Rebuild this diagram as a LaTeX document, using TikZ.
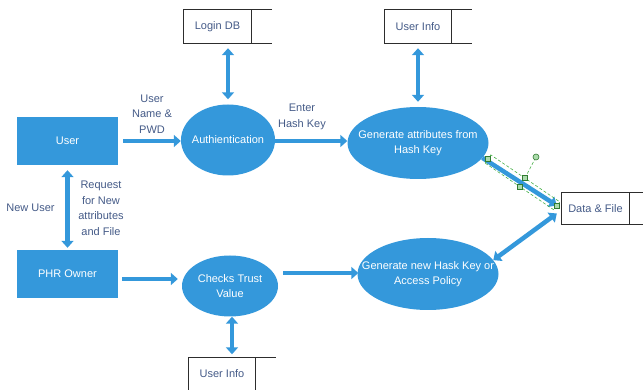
\documentclass[tikz,border=0pt]{standalone}
\usepackage{fontspec}
\setmainfont{Liberation Sans}
\usepackage{tikz}
\usepackage{xcolor}
\usetikzlibrary{arrows.meta,shapes.geometric,positioning}
\definecolor{flowblue}{RGB}{52,152,219}
\definecolor{labelblue}{RGB}{68,90,135}
\definecolor{storeline}{RGB}{45,45,45}
\definecolor{handlegreen}{RGB}{70,175,70}
\newcommand{\dfdfont}{\fontsize{11}{15.5}\selectfont}
\tikzset{
  proc/.style={ellipse,fill=flowblue,text=white,inner sep=-60pt,align=center,font=\dfdfont},
  entity/.style={rectangle,fill=flowblue,text=white,minimum width=101pt,minimum height=48pt,inner sep=0pt,font=\dfdfont},
  store/.style={rectangle,inner sep=0pt,minimum width=67pt,minimum height=33pt,text=labelblue,font=\dfdfont},
  storeedge/.style={storeline,line width=1.1pt},
  flow/.style={flowblue,line width=4.5pt,-{Triangle[width=12pt,length=7pt]}},
  bothflow/.style={flowblue,line width=4.5pt,{Triangle[width=12pt,length=7pt]}-{Triangle[width=12pt,length=7pt]}},
  lbl/.style={text=labelblue,align=center,inner sep=0pt,font=\dfdfont},
  handle/.style={draw=handlegreen!70!black,fill=handlegreen!45,line width=0.6pt,minimum size=5pt,inner sep=0pt}
}

\begin{document}
\begin{tikzpicture}[x=1pt,y=-1pt]
\useasboundingbox (0,0) rectangle (643,390);
% entities and processes
\node[entity] (user) at (67.5,141) {User};
\node[entity] (phr) at (67.5,274) {PHR Owner};
\node[proc,minimum width=94pt,minimum height=71pt] (auth) at (228,140) {Authientication};
\node[proc,minimum width=141pt,minimum height=72pt] (genattr) at (418,143) {Generate attributes from\\Hash Key};
\node[proc,minimum width=96pt,minimum height=61pt] (trust) at (230,286) {Checks Trust\\Value};
\node[proc,minimum width=141pt,minimum height=72pt] (genkey) at (428,274) {Generate new Hask Key or\\Access Policy};
% data stores
\node[store] (logindb) at (217.5,26.5) {Login DB};
\node[store] (infotop) at (418,26.5) {User Info};
\node[store,minimum height=31pt] (datafile) at (595.5,208.5) {Data \& File};
\node[store] (infobot) at (222,374) {User Info};
\draw[storeedge] ([xshift=21pt]logindb.north east) -- (logindb.north west) -- (logindb.south west) -- ([xshift=21pt]logindb.south east) (logindb.north east) -- (logindb.south east);
\draw[storeedge] ([xshift=20pt]infotop.north east) -- (infotop.north west) -- (infotop.south west) -- ([xshift=20pt]infotop.south east) (infotop.north east) -- (infotop.south east);
\draw[storeedge] ([xshift=20pt]datafile.north east) -- (datafile.north west) -- (datafile.south west) -- ([xshift=20pt]datafile.south east) (datafile.north east) -- (datafile.south east);
\draw[storeedge] (infobot.south west) -- (infobot.north west) -- ([xshift=20pt]infobot.north east) (infobot.north east) -- (infobot.south east);
% flows
\draw[flow,shorten <=5pt] (user.east) -- (auth.west |- user.east);
\draw[flow] (auth.east |- 0,141) -- (genattr.west |- 0,141);
\draw[bothflow,shorten <=5pt,shorten >=5pt] (auth.north) -- (auth.north |- logindb.south);
\draw[bothflow,shorten <=5pt,shorten >=5pt] (genattr.north) -- (genattr.north |- infotop.south);
\draw[bothflow,shorten <=5pt,shorten >=2pt] (user.south) -- (phr.north);
\draw[flow] ([xshift=4pt,yshift=-5pt]phr.east) -- ([xshift=-4pt]trust.west |- 0,279);
\draw[flow] ([xshift=5pt,yshift=13pt]trust.east) -- ([xshift=1pt]genkey.west |- 0,273);
\draw[bothflow,shorten >=3pt] ([xshift=2pt]trust.south) -- ([xshift=10pt]infobot.north);
\draw[flow] (genattr.-13) -- ([xshift=-5pt,yshift=3pt]datafile.west);
\draw[bothflow] ([xshift=-5pt,yshift=-5pt]datafile.west) -- (genkey.12);
% flow labels
\node[lbl] (lblpwd) at (152,114) {User\\Name \&\\PWD};
\node[lbl] (lblhash) at (302,117) {Enter\\Hash Key};
\node[lbl] (lblnew) at (30.5,208) {New User};
\node[lbl] (lblreq) at (101,208.5) {Request\\for New\\attributes\\and File};
% selection handles on the selected connector
\draw[handlegreen,densely dashed,line width=0.6pt] (485.2,163.1) -- (554.2,210.1) -- (559.8,201.9) -- (490.8,154.9) -- cycle;
\draw[handlegreen,densely dashed,line width=0.6pt] (525,178) -- (536,157);
\node[handle,circle,minimum size=6pt] (rot) at (536,157) {};
\node[handle] (h1) at (488,159) {};
\node[handle] (h2) at (525,178) {};
\node[handle] (h3) at (520,187) {};
\node[handle] (h4) at (557,206) {};
\end{tikzpicture}
\end{document}
